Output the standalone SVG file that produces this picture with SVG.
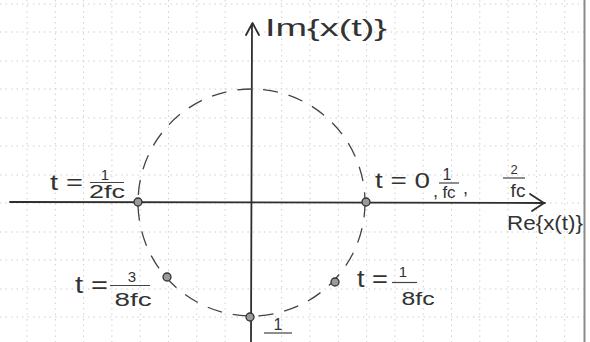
<svg xmlns="http://www.w3.org/2000/svg" width="590" height="342" viewBox="0 0 590 342">
<style>
.grid line{stroke:#cfcfcf;stroke-width:1;stroke-dasharray:1.5 4}
.ax{stroke:#2e2e2e;stroke-width:1.8;fill:none;stroke-linecap:round;stroke-linejoin:round}
.circ{stroke:#444;stroke-width:1.3;fill:none;stroke-dasharray:15 11}
.pt{fill:#9a9a9a;stroke:#333;stroke-width:1.3}
.bar{stroke:#444;stroke-width:1.2}
text{font-family:"Liberation Sans",Arial,sans-serif;fill:#333}
</style>
<rect width="590" height="342" fill="#fff"/>
<g class="grid">
<line x1="27" y1="0" x2="27" y2="342"/><line x1="55.3" y1="0" x2="55.3" y2="342"/><line x1="83.6" y1="0" x2="83.6" y2="342"/><line x1="111.9" y1="0" x2="111.9" y2="342"/><line x1="140.2" y1="0" x2="140.2" y2="342"/><line x1="168.5" y1="0" x2="168.5" y2="342"/><line x1="196.8" y1="0" x2="196.8" y2="342"/><line x1="225.1" y1="0" x2="225.1" y2="342"/><line x1="281.7" y1="0" x2="281.7" y2="342"/><line x1="310" y1="0" x2="310" y2="342"/><line x1="338.3" y1="0" x2="338.3" y2="342"/><line x1="366.6" y1="0" x2="366.6" y2="342"/><line x1="394.9" y1="0" x2="394.9" y2="342"/><line x1="423.2" y1="0" x2="423.2" y2="342"/><line x1="451.5" y1="0" x2="451.5" y2="342"/><line x1="479.8" y1="0" x2="479.8" y2="342"/><line x1="508.1" y1="0" x2="508.1" y2="342"/><line x1="536.4" y1="0" x2="536.4" y2="342"/><line x1="564.7" y1="0" x2="564.7" y2="342"/>
<line x1="0" y1="4" x2="584" y2="4"/><line x1="0" y1="32" x2="584" y2="32"/><line x1="0" y1="61" x2="584" y2="61"/><line x1="0" y1="89" x2="584" y2="89"/><line x1="0" y1="118" x2="584" y2="118"/><line x1="0" y1="146" x2="584" y2="146"/><line x1="0" y1="175" x2="584" y2="175"/><line x1="0" y1="203" x2="584" y2="203"/><line x1="0" y1="232" x2="584" y2="232"/><line x1="0" y1="260" x2="584" y2="260"/><line x1="0" y1="289" x2="584" y2="289"/><line x1="0" y1="317" x2="584" y2="317"/>
</g>
<line x1="584.5" y1="0" x2="584.5" y2="342" stroke="#8a8a8a" stroke-width="2"/>
<g id="connectors">
<path class="ax" d="M10 202 L545 203 M530 194 L544 203 L532 211"/>
<path class="ax" d="M252 24 L251 342 M246 35 L252.5 23 L259 35"/>
<circle class="circ" cx="251.5" cy="202.5" r="113.5"/>
</g>
<g id="axis-labels">
<text x="265" y="36" font-size="24" textLength="122" lengthAdjust="spacingAndGlyphs">Im{x(t)}</text>
<text x="507" y="230" font-size="21" textLength="76" lengthAdjust="spacingAndGlyphs">Re{x(t)}</text>
</g>
<g id="pt-half">
<circle class="pt" cx="138" cy="202" r="4"/>
<text x="50" y="190" font-size="22" textLength="33" lengthAdjust="spacingAndGlyphs">t =</text>
<text x="105" y="180" font-size="15" text-anchor="middle">1</text>
<line class="bar" x1="90" y1="182.5" x2="124" y2="182.5"/>
<text x="107" y="198" font-size="18" text-anchor="middle" textLength="36" lengthAdjust="spacingAndGlyphs">2fc</text>
</g>
<g id="pt-zero">
<circle class="pt" cx="366" cy="202" r="4"/>
<text x="375" y="188" font-size="22" textLength="55" lengthAdjust="spacingAndGlyphs">t = 0</text>
<text x="433" y="197" font-size="18">,</text>
<text x="447" y="180" font-size="16" text-anchor="middle">1</text>
<line class="bar" x1="439" y1="183" x2="459" y2="183"/>
<text x="449" y="198" font-size="17" text-anchor="middle">fc</text>
<text x="463" y="194" font-size="18">,</text>
<text x="514" y="174" font-size="13" text-anchor="middle">2</text>
<line class="bar" x1="503" y1="178" x2="525" y2="178"/>
<text x="518" y="197" font-size="19" text-anchor="middle">fc</text>
</g>
<g id="pt-3-8">
<circle class="pt" cx="167" cy="277" r="4"/>
<text x="75" y="293" font-size="24" textLength="33" lengthAdjust="spacingAndGlyphs">t =</text>
<text x="132" y="282" font-size="15" text-anchor="middle">3</text>
<line class="bar" x1="110" y1="285.5" x2="150" y2="285.5"/>
<text x="133" y="306" font-size="18" text-anchor="middle" textLength="37" lengthAdjust="spacingAndGlyphs">8fc</text>
</g>
<g id="pt-1-8">
<circle class="pt" cx="335" cy="282" r="4"/>
<text x="357" y="287" font-size="24" textLength="31" lengthAdjust="spacingAndGlyphs">t =</text>
<text x="403" y="277" font-size="15" text-anchor="middle">1</text>
<line class="bar" x1="392" y1="282.5" x2="417" y2="282.5"/>
<text x="418" y="305" font-size="18" text-anchor="middle" textLength="33" lengthAdjust="spacingAndGlyphs">8fc</text>
</g>
<g id="pt-quarter">
<circle class="pt" cx="250" cy="317" r="4"/>
<text x="278" y="330" font-size="16" text-anchor="middle">1</text>
<line class="bar" x1="264" y1="333" x2="292" y2="333"/>
</g>
</svg>
